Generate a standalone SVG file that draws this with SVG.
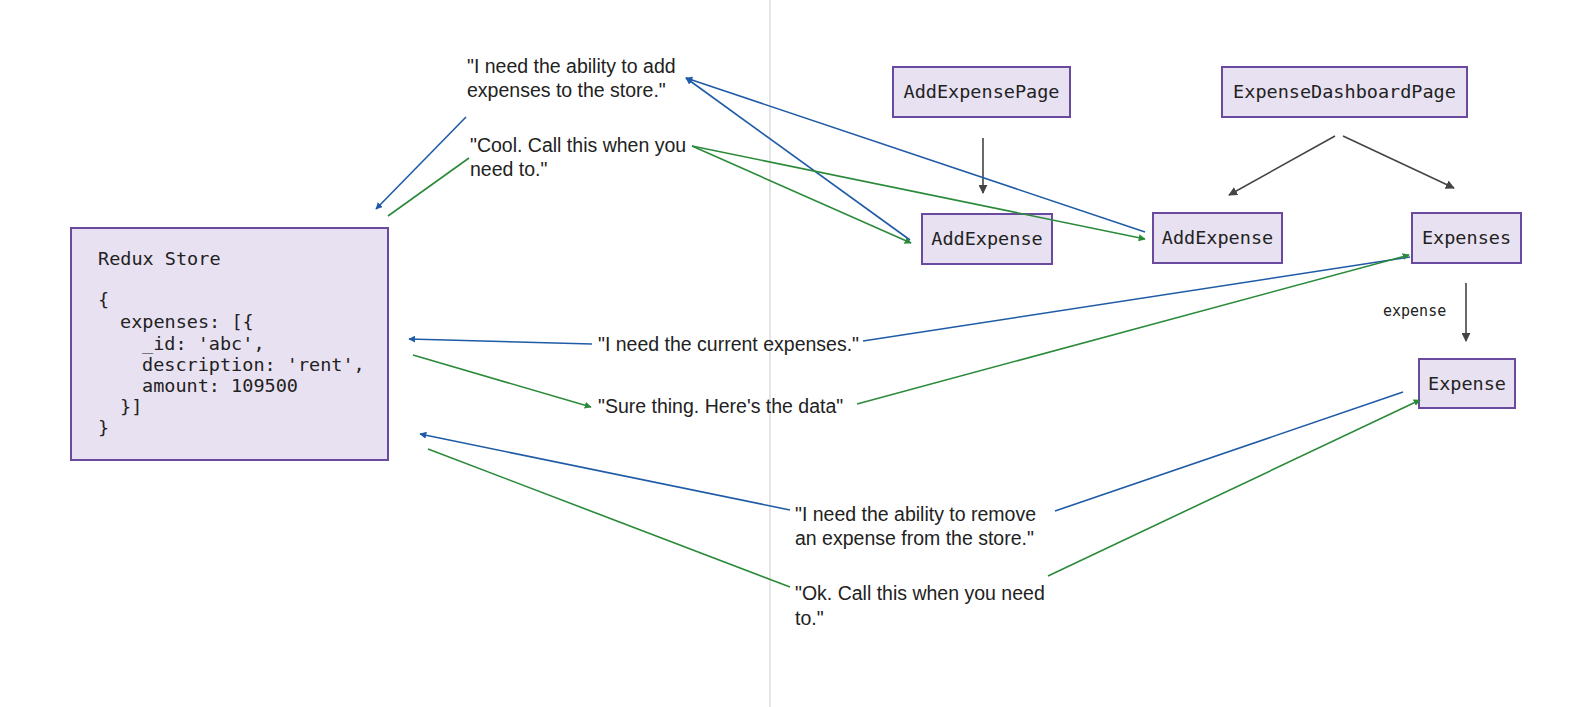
<svg xmlns="http://www.w3.org/2000/svg" width="1579" height="707" viewBox="0 0 1579 707">
<style>
.box{fill:#e8e1f1;stroke:#6a4a9e;stroke-width:2}
.mono{font-family:"DejaVu Sans Mono","Liberation Mono",monospace;font-size:18.5px;fill:#222}
.say{font-family:"Liberation Sans","Noto Sans",sans-serif;font-size:19.5px;fill:#222}
.blue{stroke:#1f5ba6;stroke-width:1.6;fill:none}
.green{stroke:#2b8a3a;stroke-width:1.6;fill:none}
.gray{stroke:#444;stroke-width:1.6;fill:none}
</style>
<defs>
<marker id="ab" viewBox="0 0 10 10" refX="9" refY="5" markerWidth="7" markerHeight="7" orient="auto" markerUnits="userSpaceOnUse"><path d="M0,0 L10,5 L0,10 z" fill="#1f5ba6"/></marker>
<marker id="ag" viewBox="0 0 10 10" refX="9" refY="5" markerWidth="7" markerHeight="7" orient="auto" markerUnits="userSpaceOnUse"><path d="M0,0 L10,5 L0,10 z" fill="#2b8a3a"/></marker>
<marker id="ak" viewBox="0 0 10 10" refX="9" refY="5" markerWidth="9" markerHeight="9" orient="auto" markerUnits="userSpaceOnUse"><path d="M0,0 L10,5 L0,10 z" fill="#444"/></marker>
</defs>
<rect width="1579" height="707" fill="#ffffff"/>
<line x1="770" y1="0" x2="770" y2="707" stroke="#dddddd" stroke-width="1.5"/>

<g id="redux-store">
<rect class="box" x="71" y="228" width="317" height="232"/>
<text class="mono" x="98" y="265">Redux Store</text>
<text class="mono" x="98" y="306">{</text>
<text class="mono" x="120" y="328">expenses: [{</text>
<text class="mono" x="142" y="350">_id: 'abc',</text>
<text class="mono" x="142" y="371">description: 'rent',</text>
<text class="mono" x="142" y="392">amount: 109500</text>
<text class="mono" x="120" y="413">}]</text>
<text class="mono" x="98" y="434">}</text>
</g>

<g id="add-expense-page">
<rect class="box" x="893" y="67" width="177" height="50"/>
<text class="mono" x="981.5" y="98" text-anchor="middle">AddExpensePage</text>
</g>
<g id="expense-dashboard-page">
<rect class="box" x="1222" y="67" width="245" height="50"/>
<text class="mono" x="1344.5" y="98" text-anchor="middle">ExpenseDashboardPage</text>
</g>
<g id="add-expense-1">
<rect class="box" x="922" y="214" width="130" height="50"/>
<text class="mono" x="987" y="245" text-anchor="middle">AddExpense</text>
</g>
<g id="add-expense-2">
<rect class="box" x="1153" y="213" width="129" height="50"/>
<text class="mono" x="1217.5" y="244" text-anchor="middle">AddExpense</text>
</g>
<g id="expenses">
<rect class="box" x="1412" y="213" width="109" height="50"/>
<text class="mono" x="1466.5" y="244" text-anchor="middle">Expenses</text>
</g>
<g id="expense">
<rect class="box" x="1419" y="359" width="96" height="49"/>
<text class="mono" x="1467" y="390" text-anchor="middle">Expense</text>
</g>

<g id="labels">
<text class="say" x="467" y="73">"I need the ability to add</text>
<text class="say" x="467" y="97">expenses to the store."</text>
<text class="say" x="470" y="152">"Cool. Call this when you</text>
<text class="say" x="470" y="176">need to."</text>
<text class="say" x="598" y="351">"I need the current expenses."</text>
<text class="say" x="598" y="413">"Sure thing. Here's the data"</text>
<text class="say" x="795" y="521">"I need the ability to remove</text>
<text class="say" x="795" y="545">an expense from the store."</text>
<text class="say" x="795" y="600">"Ok. Call this when you need</text>
<text class="say" x="795" y="625">to."</text>
<text x="1383" y="316" style="font-family:'DejaVu Sans Mono','Liberation Mono',monospace;font-size:15px;fill:#222">expense</text>
</g>

<g id="connectors">
<line class="gray" x1="983" y1="138" x2="983" y2="193" marker-end="url(#ak)"/>
<line class="gray" x1="1335" y1="136" x2="1229" y2="195" marker-end="url(#ak)"/>
<line class="gray" x1="1343" y1="136" x2="1454" y2="188" marker-end="url(#ak)"/>
<line class="gray" x1="1466" y1="283" x2="1466" y2="341" marker-end="url(#ak)"/>

<line class="blue" x1="466" y1="117" x2="376" y2="209" marker-end="url(#ab)"/>
<line class="green" x1="388" y1="216" x2="469" y2="158"/>
<line class="blue" x1="910" y1="240" x2="686" y2="78" marker-end="url(#ab)"/>
<line class="blue" x1="1145" y1="232" x2="686" y2="78" marker-end="url(#ab)"/>
<line class="green" x1="692" y1="146" x2="911" y2="243" marker-end="url(#ag)"/>
<line class="green" x1="692" y1="146" x2="1145" y2="239" marker-end="url(#ag)"/>

<line class="blue" x1="1410" y1="257" x2="863" y2="341"/>
<line class="blue" x1="592" y1="344" x2="409" y2="339" marker-end="url(#ab)"/>
<line class="green" x1="857" y1="404" x2="1409" y2="255" marker-end="url(#ag)"/>
<line class="green" x1="413" y1="355" x2="591" y2="407" marker-end="url(#ag)"/>

<line class="blue" x1="1403" y1="392" x2="1055" y2="511"/>
<line class="blue" x1="790" y1="510" x2="420" y2="434" marker-end="url(#ab)"/>
<line class="green" x1="1048" y1="576" x2="1420" y2="400" marker-end="url(#ag)"/>
<line class="green" x1="790" y1="587" x2="428" y2="449"/>
</g>
</svg>
